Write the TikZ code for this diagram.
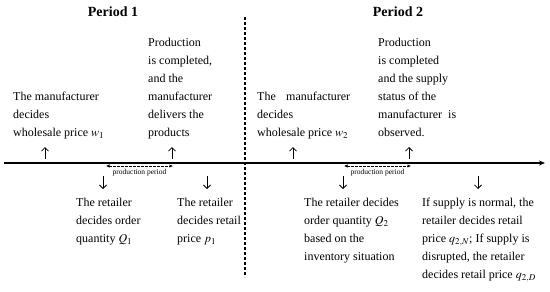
\documentclass[tikz,border=0pt]{standalone}
\usepackage{mathptmx}
\usepackage[no-math]{fontspec}
\setmainfont{Liberation Serif}
\usetikzlibrary{arrows.meta}

\begin{document}
\begin{tikzpicture}[x=1pt,y=-1pt,
  evtext/.style={anchor=north west, inner sep=0pt, align=left, font=\fontsize{12}{18}\selectfont},
  pertitle/.style={inner sep=0pt, font=\fontsize{14}{16}\selectfont\bfseries},
  ppmark/.style={inner sep=0pt, font=\fontsize{7.5}{8}\selectfont},
  tick/.style={line width=0.8pt, -{Straight Barb[length=3.5pt,width=7pt]}},
  ppline/.style={dash pattern=on 2.5pt off 1.5pt, line width=0.7pt, {Latex[length=3.5pt,width=3.5pt]}-{Latex[length=3.5pt,width=3.5pt]}},
]
\useasboundingbox (0,0) rectangle (550,292);

% titles and the divider between the periods
\node[pertitle] (per1) at (113,12) {Period 1};
\node[pertitle] (per2) at (398,12) {Period 2};
\coordinate (divT) at (245,17);
\coordinate (divB) at (245,277);
\draw[line width=1.1pt, dash pattern=on 3pt off 2pt] (divT) -- (divB);

% time axis
\coordinate (axL) at (4,163);
\coordinate (axR) at (545,163);
\draw[line width=1.1pt, -{Stealth[length=6pt,width=5pt,inset=2pt]}] (axL) -- (axR);

% events above the axis
\node[evtext] (mfr1) at (13,91.7) {The manufacturer\\decides\\wholesale price $w_1$};
\node[evtext] (prod1) at (148,37.7) {Production\\is completed,\\and the\\manufacturer\\delivers the\\products};
\node[evtext] (mfr2) at (257,91.7) {\makebox[93pt][s]{The manufacturer}\\decides\\wholesale price $w_2$};
\node[evtext] (prod2) at (378,37.7) {Production\\is completed\\and the supply\\status of the\\manufacturer\ \ is\\observed.};

\foreach \n/\x in {1/45,2/172,3/293,4/409} {
  \coordinate (up\n) at (\x,159);
  \coordinate (upt\n) at (\x,147);
  \draw[tick] (up\n) -- (upt\n);
}

% production periods
\foreach \n/\xa/\xb in {1/106/173,2/344/411} {
  \coordinate (pa\n) at (\xa,166);
  \coordinate (pb\n) at (\xb,166);
  \draw[ppline] (pa\n) -- (pb\n);
  \pgfmathsetmacro{\xm}{(\xa+\xb)/2}
  \node[ppmark] (pplab\n) at (\xm,173) {production period};
}

% events below the axis
\foreach \n/\x in {1/103,2/207,3/343,4/478} {
  \coordinate (dn\n) at (\x,176);
  \coordinate (dnt\n) at (\x,189);
  \draw[tick] (dn\n) -- (dnt\n);
}

\node[evtext] (ret1) at (76,197.7) {The retailer\\decides order\\quantity $Q_1$};
\node[evtext] (ret2) at (177,197.7) {The retailer\\decides retail\\price $p_1$};
\node[evtext] (ret3) at (304,197.7) {The retailer decides\\order quantity $Q_2$\\based on the\\inventory situation};
\node[evtext] (ret4) at (422,197.7) {If supply is normal, the\\retailer decides retail\\price $q_{2,N}$; If supply is\\disrupted, the retailer\\decides retail price $q_{2,D}$};
\end{tikzpicture}
\end{document}
